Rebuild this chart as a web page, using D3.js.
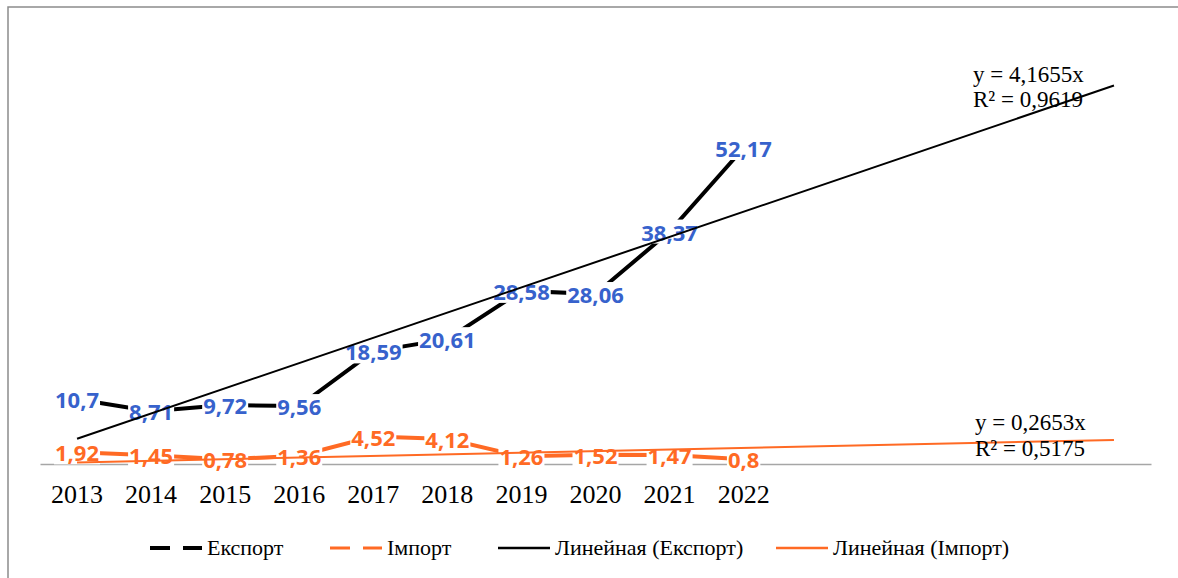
<!DOCTYPE html>
<html>
<head>
<meta charset="utf-8">
<script src="https://cdn.jsdelivr.net/npm/d3@7"></script>
<style>
  body { margin: 0; background: #fff; }
  svg { display: block; }
</style>
</head>
<body>
<div id="chart"></div>
<script>
// data
const years = ['2013', '2014', '2015', '2016', '2017', '2018', '2019', '2020', '2021', '2022'];
const forecastPeriods = 5;
const exportValues = [10.7, 8.71, 9.72, 9.56, 18.59, 20.61, 28.58, 28.06, 38.37, 52.17];
const importValues = [1.92, 1.45, 0.78, 1.36, 4.52, 4.12, 1.26, 1.52, 1.47, 0.8];
const exportSlope = 4.1655;
const importSlope = 0.2653;
const exportR2 = 0.9619;
const importR2 = 0.5175;
const legendNames = ['Експорт', 'Імпорт', 'Линейная (Експорт)', 'Линейная (Імпорт)'];

const width = 1178, height = 578;
const margin = { top: 40, right: 27, bottom: 114, left: 40 };
const black = '#000000', orange = '#ff6a24', blue = '#3762cc';
const comma = v => String(v).replace('.', ',');

const svg = d3.select('#chart').append('svg')
  .attr('width', width)
  .attr('height', height);

// outer frame (left + top only)
svg.append('path')
  .attr('d', `M8,${height} V7 H${width}`)
  .attr('fill', 'none')
  .attr('stroke', '#8c8c8c')
  .attr('stroke-width', 1.5);

const x = d3.scaleBand()
  .domain(d3.range(1, years.length + forecastPeriods + 1))
  .range([margin.left, width - margin.right])
  .padding(0);
const cx = i => x(i) + x.bandwidth() / 2;

const y = d3.scaleLinear()
  .domain([0, 70])
  .range([height - margin.bottom, margin.top]);

// x axis
const axis = svg.append('g')
  .attr('transform', `translate(0,${height - margin.bottom})`)
  .call(d3.axisBottom(x).tickSize(0).tickSizeOuter(0).tickFormat(i => years[i - 1] || ''));
axis.select('.domain').attr('stroke', '#a6a6a6').attr('stroke-width', 1.5);
axis.selectAll('text')
  .attr('y', 39)
  .attr('dy', 0)
  .style('font-family', '"Liberation Serif", "Times New Roman", serif')
  .style('font-size', '26px')
  .style('fill', '#000');

// series lines
const line = d3.line()
  .x((d, i) => cx(i + 1))
  .y(d => y(d));

svg.append('path')
  .datum(exportValues)
  .attr('fill', 'none')
  .attr('stroke', black)
  .attr('stroke-width', 4)
  .attr('d', line);

svg.append('path')
  .datum(importValues)
  .attr('fill', 'none')
  .attr('stroke', orange)
  .attr('stroke-width', 4)
  .attr('d', line);

// data labels with white boxes
function drawLabels(values, color) {
  const g = svg.append('g');
  const items = g.selectAll('g')
    .data(values)
    .enter().append('g');
  const texts = items.append('text')
    .attr('x', (d, i) => cx(i + 1))
    .attr('y', d => y(d))
    .attr('text-anchor', 'middle')
    .attr('dominant-baseline', 'central')
    .style('font-family', '"Open Sans", sans-serif')
    .style('font-weight', 'bold')
    .style('font-size', '22px')
    .style('fill', color)
    .text(d => comma(d));
  texts.each(function () {
    const b = this.getBBox();
    d3.select(this.parentNode).insert('rect', 'text')
      .attr('x', b.x - 1)
      .attr('y', b.y + 3)
      .attr('width', b.width + 2)
      .attr('height', b.height - 6)
      .attr('fill', '#fff');
  });
}
drawLabels(exportValues, blue);
drawLabels(importValues, orange);

// linear trendlines (through origin), forecast forward
const lastX = years.length + forecastPeriods;
const trend = (slope, color) => {
  svg.append('line')
    .attr('x1', cx(1)).attr('y1', y(slope * 1))
    .attr('x2', cx(lastX)).attr('y2', y(slope * lastX))
    .attr('stroke', color)
    .attr('stroke-width', 2);
};
trend(exportSlope, black);
trend(importSlope, orange);

// trendline equations
const eq = (lines, x0, y0, dy) => {
  const t = svg.append('text')
    .style('font-family', '"Liberation Serif", "Times New Roman", serif')
    .style('font-size', '23px')
    .style('fill', '#000');
  lines.forEach((s, k) => {
    t.append('tspan').attr('x', x0).attr('y', y0 + k * dy).text(s);
  });
};
eq([`y = ${comma(exportSlope)}x`, `R² = ${comma(exportR2)}`], 973, 82, 25);
eq([`y = ${comma(importSlope)}x`, `R² = ${comma(importR2)}`], 975, 430, 26);

// legend
const legendStyles = [
  { color: black, width: 4, dash: '20 13', x: 150 },
  { color: orange, width: 3, dash: '20 13', x: 330 },
  { color: black, width: 2.5, dash: null, x: 498 },
  { color: orange, width: 2.5, dash: null, x: 776 }
];
const legend = svg.append('g');
const ly = 548;
legendNames.forEach((name, k) => {
  const st = legendStyles[k];
  legend.append('line')
    .attr('x1', st.x).attr('x2', st.x + 52)
    .attr('y1', ly).attr('y2', ly)
    .attr('stroke', st.color)
    .attr('stroke-width', st.width)
    .attr('stroke-dasharray', st.dash);
  legend.append('text')
    .attr('x', st.x + 57)
    .attr('y', ly + 7)
    .style('font-family', '"Liberation Serif", "Times New Roman", serif')
    .style('font-size', '22px')
    .style('fill', '#000')
    .text(name);
});
</script>
</body>
</html>
